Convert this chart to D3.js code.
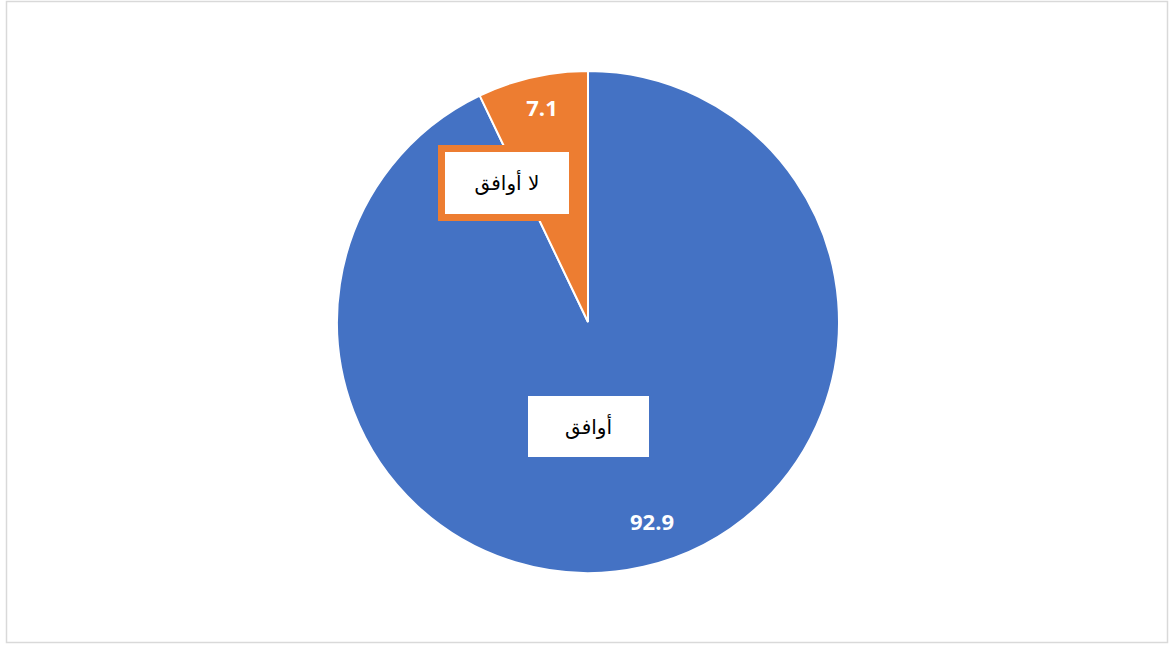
<!DOCTYPE html>
<html>
<head>
<meta charset="utf-8">
<script src="https://cdn.jsdelivr.net/npm/d3@7"></script>
<style>
  body { margin: 0; background: #fff; }
  svg { display: block; }
</style>
</head>
<body>
<svg id="chart" width="1169" height="646"></svg>
<script>
'use strict';

// data
const categories = ['أوافق', 'لا أوافق'];
const values = [92.9, 7.1];
const colors = ['#4472C4', '#ED7D31'];

const svg = d3.select('#chart');

// chart frame
svg.append('rect')
    .attr('x', 6.5).attr('y', 1.5)
    .attr('width', 1161).attr('height', 641)
    .attr('fill', '#fff')
    .attr('stroke', '#d9d9d9')
    .attr('stroke-width', 1.5);

let cx = 588, cy = 322, radius = 251;

let pie = d3.pie().sort(null).value(d => d.value);
let arc = d3.arc().innerRadius(0).outerRadius(radius);

let data = categories.map((c, i) => ({ name: c, value: values[i], color: colors[i] }));
let arcs = pie(data);

let g = svg.append('g').attr('transform', `translate(${cx},${cy})`);

g.selectAll('.slice')
    .data(arcs)
    .enter()
    .append('path')
    .attr('class', 'slice')
    .attr('d', arc)
    .attr('fill', d => d.data.color)
    .attr('stroke', '#fff')
    .attr('stroke-width', 2);

// value labels (offsets from the pie centre)
let valuePos = [[64, 199], [-46, -215]];
g.selectAll('.value')
    .data(arcs)
    .enter()
    .append('text')
    .attr('class', 'value')
    .attr('x', (d, i) => valuePos[i][0])
    .attr('y', (d, i) => valuePos[i][1])
    .attr('text-anchor', 'middle')
    .attr('dominant-baseline', 'central')
    .attr('fill', '#fff')
    .attr('font-family', '"Open Sans", "Liberation Sans", sans-serif')
    .attr('font-weight', 'bold')
    .attr('font-size', 22)
    .text(d => d.data.value.toFixed(1));

// category label boxes
let boxes = [
    { x: -60, y: 74, w: 121, h: 61, border: 0 },
    { x: -150, y: -177, w: 138, h: 76, border: 7 }
];
let labels = g.selectAll('.label')
    .data(arcs)
    .enter()
    .append('g')
    .attr('class', 'label');

labels.append('rect')
    .attr('x', (d, i) => boxes[i].x + boxes[i].border / 2)
    .attr('y', (d, i) => boxes[i].y + boxes[i].border / 2)
    .attr('width', (d, i) => boxes[i].w - boxes[i].border)
    .attr('height', (d, i) => boxes[i].h - boxes[i].border)
    .attr('fill', '#fff')
    .attr('stroke', d => d.data.color)
    .attr('stroke-width', (d, i) => boxes[i].border);

labels.append('text')
    .attr('x', (d, i) => boxes[i].x + boxes[i].w / 2)
    .attr('y', (d, i) => boxes[i].y + boxes[i].h / 2)
    .attr('text-anchor', 'middle')
    .attr('dominant-baseline', 'central')
    .attr('direction', 'rtl')
    .attr('fill', '#000')
    .attr('font-family', '"DejaVu Sans", serif')
    .attr('font-size', 20)
    .text(d => d.data.name);
</script>
</body>
</html>
